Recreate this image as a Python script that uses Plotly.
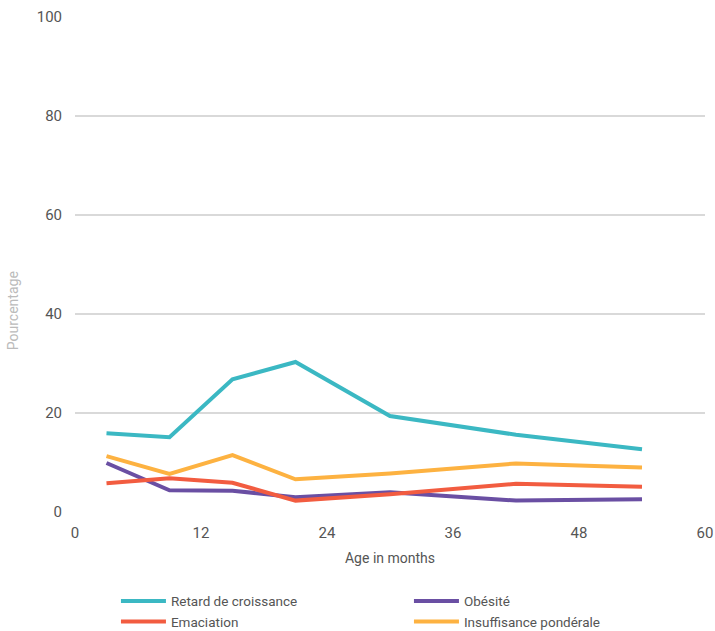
import plotly.graph_objects as go

ages = [3, 9, 15, 21, 30, 42, 54]
retard = [15.9, 15.1, 26.8, 30.3, 19.4, 15.6, 12.7]
obesite = [9.9, 4.4, 4.3, 3.0, 4.0, 2.3, 2.6]
emaciation = [5.8, 6.8, 5.9, 2.3, 3.6, 5.7, 5.1]
insuffisance = [11.3, 7.7, 11.5, 6.6, 7.8, 9.8, 9.0]

series = [
    ("Retard de croissance", retard, "#3BB8C3"),
    ("Obésité", obesite, "#6A4FA3"),
    ("Emaciation", emaciation, "#F25C40"),
    ("Insuffisance pondérale", insuffisance, "#FDB241"),
]

fig = go.Figure()
for name, vals, col in series:
    fig.add_trace(go.Scatter(x=ages, y=vals, name=name, mode="lines",
                             line=dict(color=col, width=4)))

fig.update_layout(
    width=715, height=631,
    margin=dict(l=75, r=10, t=17, b=119, autoexpand=False),
    plot_bgcolor="white", paper_bgcolor="white",
    font=dict(family="Roboto, Liberation Sans, sans-serif", size=14, color="#555555"),
    showlegend=True,
    legend=dict(orientation="h", x=0.065, y=-0.149, xanchor="left", yanchor="top",
                entrywidth=233, entrywidthmode="pixels",
                font=dict(size=13.5, color="#555555"), tracegroupgap=0,
                itemwidth=45),
    xaxis=dict(range=[0, 60], tickvals=[0, 12, 24, 36, 48, 60], showgrid=False,
               zeroline=False, showline=False, ticks="", ticklabelstandoff=10,
               tickfont=dict(size=15),
               title=dict(text="Age in months", font=dict(size=14, color="#555555"), standoff=12),
               fixedrange=True),
    yaxis=dict(range=[0, 100], tickvals=[0, 20, 40, 60, 80, 100], showgrid=True,
               gridcolor="#d9d9d9", gridwidth=2, zeroline=False, showline=False,
               ticks="", ticklabelstandoff=12, tickfont=dict(size=15), fixedrange=True),
    annotations=[dict(text="Pourcentage", xref="paper", yref="paper",
                      x=-0.114, y=0.406, textangle=-90, showarrow=False,
                      font=dict(size=14, color="#bbbbbb"))],
)

fig.write_html("out.html")
